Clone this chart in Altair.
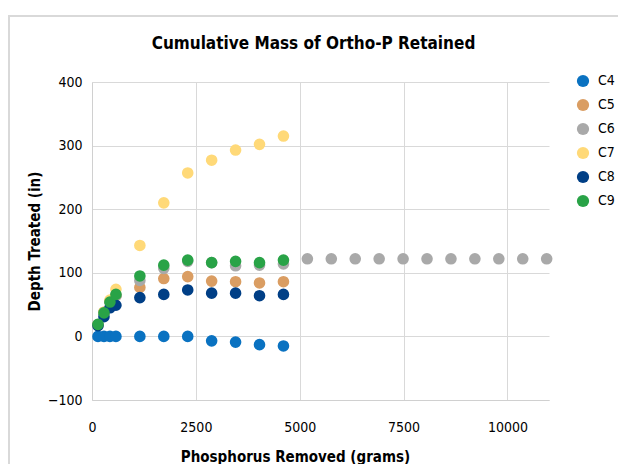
import altair as alt
import pandas as pd

# x values (grams of phosphorus removed)
x_short = [144, 288, 432, 576, 1152, 1728, 2304, 2880, 3456, 4032, 4608]
x_long = x_short + [5184, 5760, 6336, 6912, 7488, 8064, 8640, 9216, 9792, 10368, 10944]

c4 = [0, 0, 0, 0, 0, 0, 0, -7, -9, -13, -15]
c5 = [18, 38, 55, 64, 77, 91, 94, 87, 86, 84, 86]
c6 = [18, 37, 54, 64, 88, 107, 118, 116, 111, 112, 114,
      122, 122, 122, 122, 122, 122, 122, 122, 122, 122, 122]
c7 = [18, 38, 57, 74, 143, 210, 257, 277, 293, 302, 315]
c8 = [17, 31, 45, 49, 61, 66, 73, 68, 68, 64, 66]
c9 = [19, 37, 54, 66, 95, 112, 120, 116, 118, 116, 120]

series_names = ["C4", "C5", "C6", "C7", "C8", "C9"]
series_colors = ["#0A72C1", "#DA9D62", "#A9A9A9", "#FFD978", "#003F86", "#29A347"]

rows = []
for name, xs, ys in [("C4", x_short, c4), ("C5", x_short, c5), ("C6", x_long, c6),
                     ("C7", x_short, c7), ("C8", x_short, c8), ("C9", x_short, c9)]:
    for xv, yv in zip(xs, ys):
        rows.append({"series": name, "x": xv, "y": yv, "order": series_names.index(name)})
df = pd.DataFrame(rows)

FONT = "DejaVu Sans Condensed"

points = alt.Chart(df).mark_circle(size=135, opacity=1).encode(
    x=alt.X("x:Q", scale=alt.Scale(domain=[0, 11000], nice=False),
            axis=alt.Axis(values=[0, 2500, 5000, 7500, 10000], title="Phosphorus Removed (grams)",
                          format="d", tickSize=0, labelPadding=20, grid=True, labelFlush=False,
                          titleX=203, titleY=49)),
    y=alt.Y("y:Q", scale=alt.Scale(domain=[-100, 400], nice=False),
            axis=alt.Axis(values=[-100, 0, 100, 200, 300, 400], title="Depth Treated (in)",
                          tickSize=0, labelPadding=10, grid=True, titlePadding=5,
                          labelFlush=False)),
    color=alt.Color("series:N", scale=alt.Scale(domain=series_names, range=series_colors),
                    legend=alt.Legend(title=None, orient="none", legendX=484, legendY=-8,
                                      symbolType="circle", symbolSize=150, labelFontSize=14,
                                      labelFont=FONT, rowPadding=10, labelOffset=8,
                                      symbolStrokeWidth=0)),
    order=alt.Order("order:Q"),
)

frame = alt.Chart(pd.DataFrame({"a": [0]})).mark_rect(
    fill=None, stroke="#D9D9D9", strokeWidth=2
).encode(x=alt.value(-83), x2=alt.value(560), y=alt.value(-66), y2=alt.value(420))

chart = alt.layer(frame, points).properties(
    width=457, height=318,
    title=alt.TitleParams("Cumulative Mass of Ortho-P Retained", fontSize=17, font=FONT,
                          fontWeight="bold", offset=30, dx=-7, dy=68, color="#000000",
                          frame="group"),
    autosize=alt.AutoSizeParams(type="none"),
    padding={"left": 84, "top": 74, "right": 69, "bottom": 64},
).configure_view(stroke=None).configure_axis(
    domainColor="#D0D0D0", gridColor="#D9D9D9", labelFont=FONT, labelFontSize=14,
    labelColor="#000000", titleFont=FONT, titleFontSize=15, titleFontWeight="bold",
    titleColor="#000000"
)

chart.save("out.html", embed_options={"renderer": "svg", "actions": False})
